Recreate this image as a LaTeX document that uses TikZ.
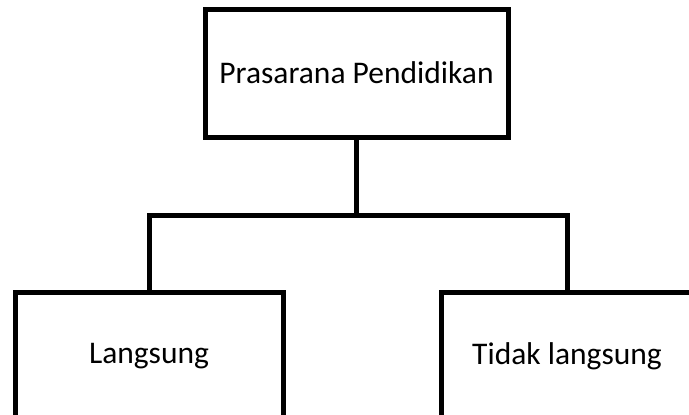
\documentclass[tikz,border=0pt]{standalone}
\usepackage{fontspec}
\setmainfont{Carlito}
\begin{document}
\begin{tikzpicture}[x=1pt,y=-1pt,
  box/.style={draw=black,line width=5pt,fill=white,inner sep=0pt,
    minimum height=128pt,font=\fontsize{31.5}{36}\selectfont},
  link/.style={draw=black,line width=5pt}]
\useasboundingbox (0,0) rectangle (689,415);
\clip (0,0) rectangle (689,415);
\node[box,minimum width=303pt] (top) at (356.5,73) {Prasarana Pendidikan};
\node[box,minimum width=268pt] (left) at (149,356) {Langsung};
\node[box,minimum width=252pt] (right) at (567,356) {Tidak langsung};
\coordinate (junc) at (356.5,215);
\draw[link] (top.south) -- (junc);
\draw[link] (left.north) |- (junc) -| (right.north);
\end{tikzpicture}
\end{document}
